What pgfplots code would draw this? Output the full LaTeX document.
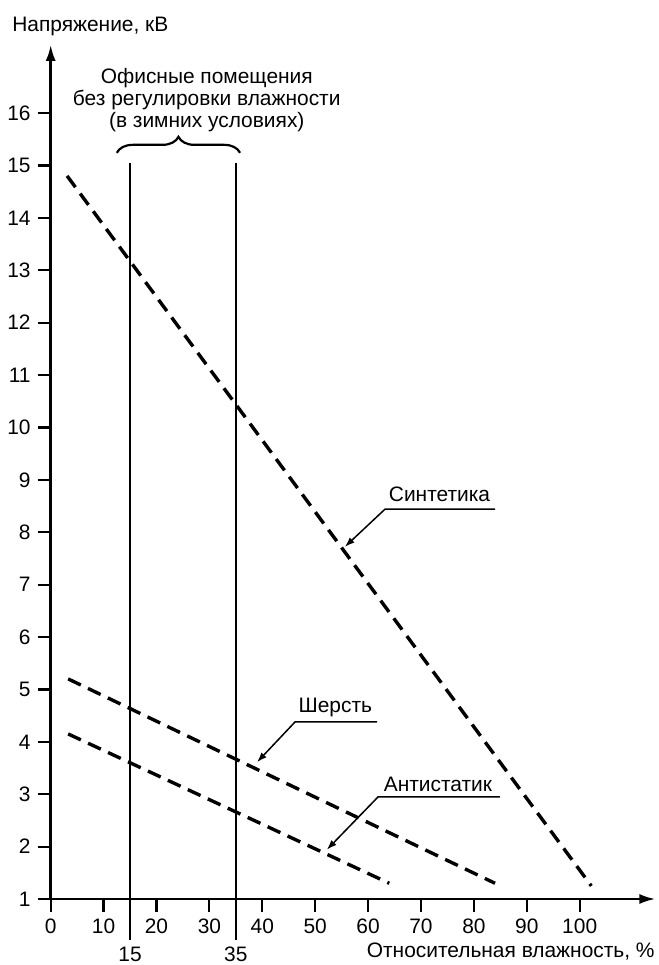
\documentclass[border=0pt]{standalone}
\usepackage{fontspec}
\setmainfont{Liberation Sans}
\usepackage{pgfplots}
\pgfplotsset{compat=1.18}
\usetikzlibrary{arrows.meta,decorations.pathreplacing}
\begin{document}
\fontsize{21}{22}\selectfont
\begin{tikzpicture}
\begin{axis}[
  x=5.29bp, y=52.4bp,
  xmin=0, xmax=114.3, ymin=1, ymax=17.3,
  axis x line=bottom, axis y line=left,
  axis line style={line width=2.4bp, black, -{Latex[length=16bp,width=10bp]}},
  xtick={0,10,...,100}, ytick={1,2,...,16},
  tick align=outside, major tick length=13bp,
  tick style={line width=2.2bp, black},
  /pgf/number format/assume math mode=true,
  ticklabel style={font=\fontsize{21}{22}\selectfont},
  clip=false,
]
% data lines
\addplot[black, mark=none, line width=3.4bp, dash pattern=on 14bp off 8bp] coordinates {(3.1,14.8) (102.2,1.25)};
\addplot[black, mark=none, line width=3.4bp, dash pattern=on 14bp off 8bp] coordinates {(3.3,5.2) (84,1.3)};
\addplot[black, mark=none, line width=3.4bp, dash pattern=on 14bp off 8bp] coordinates {(3.3,4.15) (64,1.3)};
% vertical limits
\addplot[black, mark=none, line width=2.4bp] coordinates {(15,0.22) (15,15.04)};
\addplot[black, mark=none, line width=2.4bp] coordinates {(35,0.22) (35,15.04)};
\node[anchor=base, inner sep=0] at (axis cs:15,-0.2) {15};
\node[anchor=base, inner sep=0] at (axis cs:35,-0.2) {35};
% brace and text
\draw[line width=2.2bp, decorate, decoration={brace, amplitude=16bp}] (axis cs:12.5,15.24) -- (axis cs:35.8,15.24);
\node[align=center, inner sep=0] at (axis cs:29.5,16.24) {Офисные помещения\\без регулировки влажности\\(в зимних условиях)};
% leaders
\draw[line width=1.5bp, -{Latex[length=10bp,width=7bp]}] (axis cs:84.0,8.44) -- (axis cs:63.2,8.44) -- (axis cs:55.6,7.72);
\node[anchor=base, inner sep=0] at (axis cs:73.5,8.58) {Синтетика};
\draw[line width=1.5bp, -{Latex[length=10bp,width=7bp]}] (axis cs:61.7,4.38) -- (axis cs:46.2,4.38) -- (axis cs:39.0,3.61);
\node[anchor=base, inner sep=0] at (axis cs:53.8,4.55) {Шерсть};
\draw[line width=1.5bp, -{Latex[length=10bp,width=7bp]}] (axis cs:84.9,2.95) -- (axis cs:61.9,2.95) -- (axis cs:52.2,1.94);
\node[anchor=base, inner sep=0] at (axis cs:73.2,3.06) {Антистатик};
% axis titles
\node[anchor=base west, inner sep=0] at (axis cs:-7.3,17.55) {Напряжение, кВ};
\node[anchor=base east, inner sep=0] at (axis cs:114.2,-0.107) {Относительная влажность, \%};
\coordinate (bbBL) at (axis cs:-9.584,-0.2595);
\coordinate (bbTR) at (axis cs:114.99,18.157);
\end{axis}
\pgfresetboundingbox
\useasboundingbox (bbBL) rectangle (bbTR);
\end{tikzpicture}
\end{document}
